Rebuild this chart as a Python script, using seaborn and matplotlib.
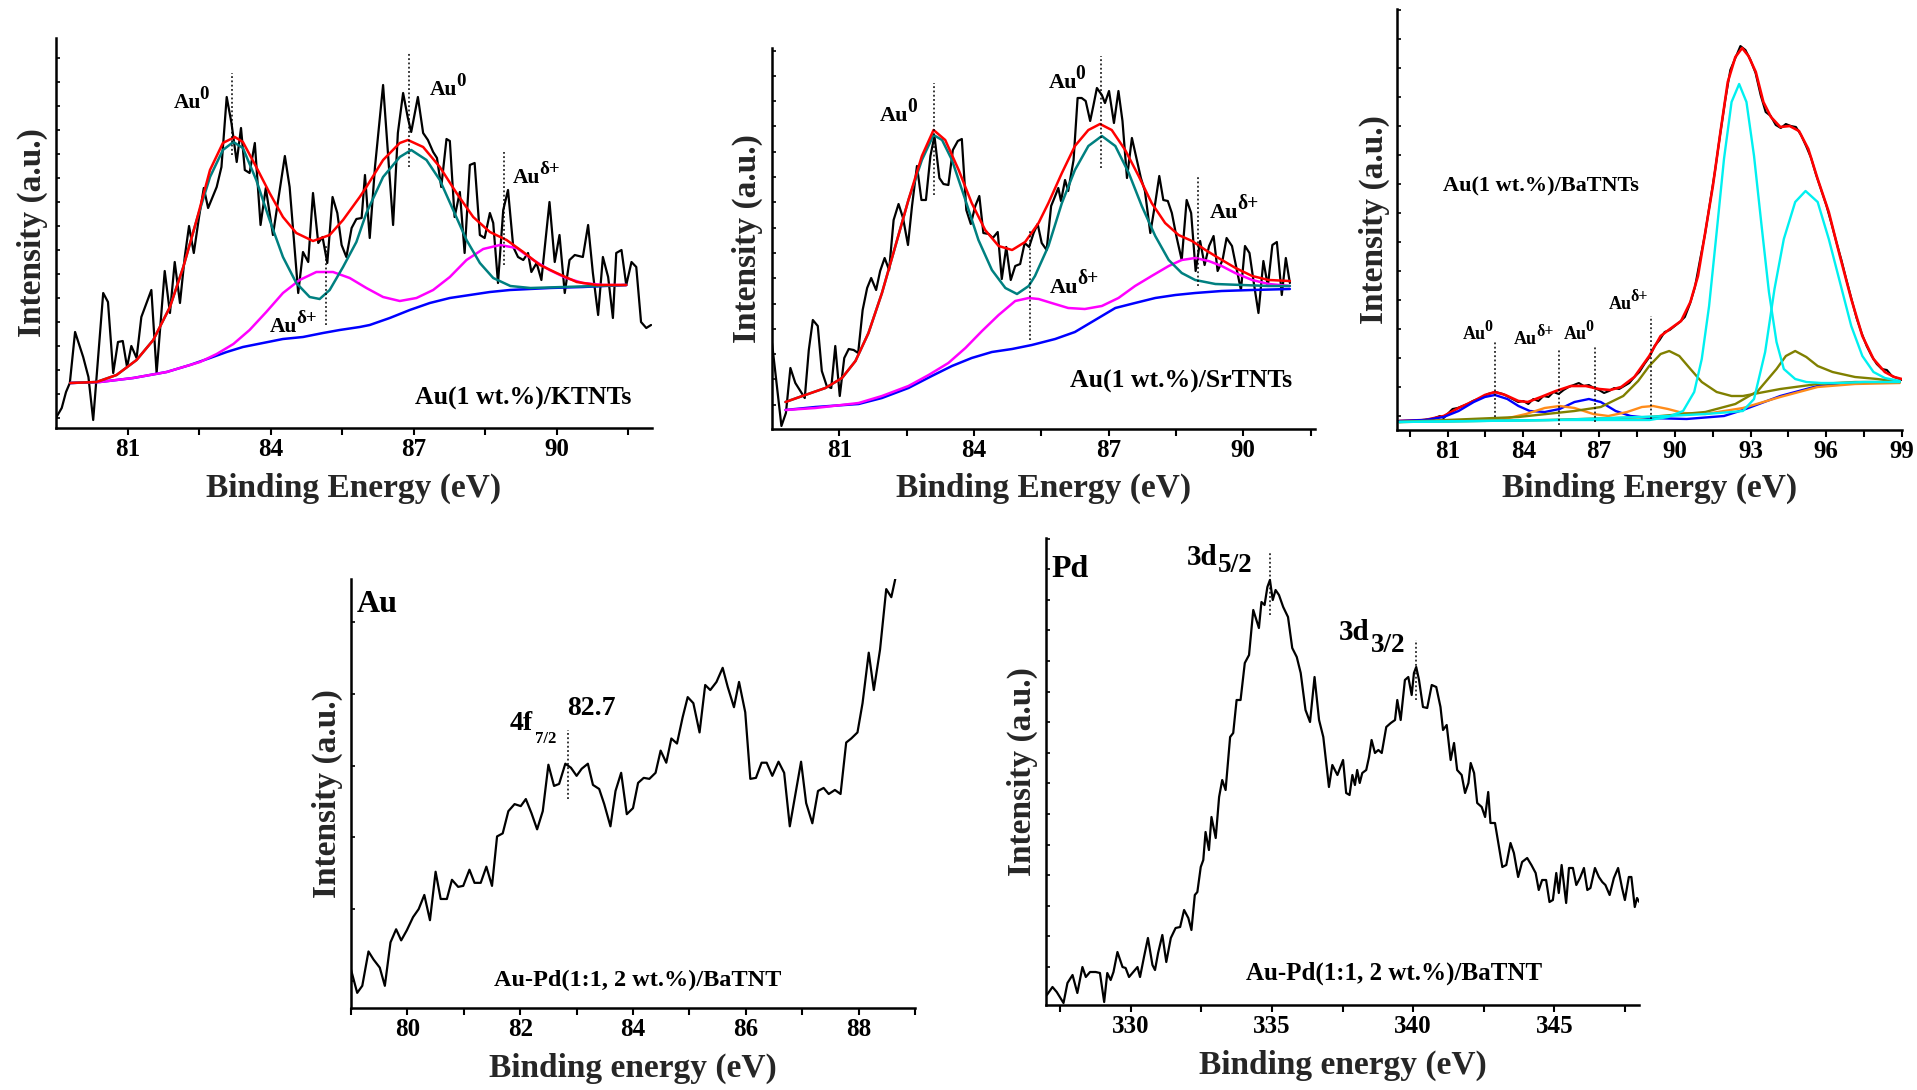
import matplotlib
matplotlib.use("Agg")
import matplotlib.pyplot as plt
import seaborn as sns
import numpy as np

# ---------------- DATA ----------------
# Panel 1: Au(1 wt.%)/KTNTs
p1_x = [79.51,79.62,79.71,79.79,79.90,80.07,80.18,80.28,80.49,80.59,80.70,80.80,80.90,80.99,81.08,81.19,81.29,81.50,81.61,81.78,
        81.89,81.99,82.10,82.20,82.29,82.39,82.50,82.60,82.69,82.87,82.97,83.08,83.18,83.29,83.38,83.46,83.56,83.67,83.79,83.90,
        84.05,84.16,84.30,84.40,84.58,84.68,84.79,84.89,85.00,85.09,85.19,85.30,85.40,85.49,85.59,85.70,85.80,
        85.91,85.98,86.08,86.19,86.36,86.57,86.67,86.78,86.88,86.95,87.09,87.20,87.30,87.41,87.49,87.58,87.69,87.76,87.86,87.97,
        88.07,88.18,88.28,88.39,88.49,88.60,88.67,88.77,88.88,88.98,89.09,89.19,89.30,89.40,89.47,89.58,89.68,89.85,89.96,90.06,
        90.17,90.27,90.38,90.55,90.66,90.76,90.87,90.97,91.08,91.18,91.25,91.36,91.46,91.57,91.67,91.77,91.88,91.98]
p1_y = [11,20,36,45,96,71,51,8,135,126,55,86,87,61,82,70,111,138,55,157,
        115,166,125,171,202,175,211,240,220,241,261,331,305,266,300,258,255,285,203,240,
        193,228,272,241,135,176,166,235,185,191,165,231,215,183,171,200,209,
        210,253,190,261,343,203,295,335,310,296,331,295,288,276,270,241,289,287,211,236,
        175,263,265,193,190,215,205,145,218,238,181,171,168,175,156,165,148,226,166,193,
        135,168,173,171,203,155,113,171,151,110,175,178,143,166,161,106,100,103]
p1_teal_x = [79.80,80.35,80.77,81.19,81.54,81.89,82.17,82.45,82.73,83.00,83.22,83.42,83.70,83.98,84.26,84.54,84.82,85.03,
             85.24,85.52,85.80,86.01,86.36,86.71,86.95,87.27,87.55,87.83,88.11,88.39,88.67,89.03,89.45,90.14,90.84,91.46]
p1_teal_y = [45,46,53,68,88,121,161,208,251,278,286,280,248,208,171,145,131,129,
             138,161,186,215,251,271,278,268,248,218,188,165,150,142,140,141,142,143]
p1_red_x = [79.80,80.35,80.77,81.19,81.54,81.89,82.17,82.45,82.73,83.00,83.25,83.42,83.70,83.98,84.26,84.54,84.89,85.24,
            85.52,85.87,86.01,86.36,86.71,86.88,87.20,87.55,87.90,88.25,88.60,88.95,89.30,89.65,90.00,90.42,90.84,91.46]
p1_red_y = [45,46,53,68,88,121,161,208,258,285,291,286,261,235,211,195,187,193,
            208,231,241,268,285,288,281,261,235,211,196,188,176,163,155,146,143,143]
p1_mag_x = [79.80,80.42,81.12,81.82,82.52,82.87,83.22,83.56,83.91,84.26,84.61,84.96,85.31,85.66,86.01,86.36,86.71,87.06,
            87.41,87.76,88.11,88.46,88.81,89.16,89.51,89.85,90.20,90.55,90.97,91.46]
p1_mag_y = [45,46,50,56,66,74,84,98,116,135,148,156,156,150,140,131,127,130,
            138,151,168,179,183,180,168,158,150,145,143,143]
p1_blue_x = [79.80,80.42,81.12,81.82,82.31,82.73,83.08,83.42,83.84,84.26,84.68,85.10,85.45,85.87,86.08,86.50,86.92,87.34,
             87.76,88.18,88.60,89.02,89.86,90.55,91.46]
p1_blue_y = [45,46,50,56,63,70,76,81,85,89,91,95,98,101,103,110,118,125,130,133,136,138,140,141,143]
p1_dot_x = [83.2, 85.16, 86.9, 88.89]
p1_dot_lo = [273, 103, 261, 163]
p1_dot_hi = [355, 183, 376, 276]

# Panel 2: Au(1 wt.%)/SrTNTs
p2_x = [79.50,79.71,79.81,79.91,80.02,80.23,80.32,80.41,80.52,80.61,80.72,80.82,80.91,81.01,81.11,81.21,81.32,81.42,81.52,81.62,
        81.71,81.82,81.91,82.01,82.11,82.21,82.32,82.42,82.53,82.62,82.73,82.83,82.93,83.03,83.12,83.23,83.32,83.43,83.53,83.64,
        83.73,83.83,83.93,84.03,84.12,84.21,84.33,84.42,84.53,84.62,84.72,84.82,84.92,85.03,85.13,85.23,85.33,85.42,85.51,
        85.62,85.72,85.81,85.88,85.94,86.03,86.10,86.22,86.31,86.40,86.49,86.59,86.66,86.74,86.85,86.92,87.01,87.12,87.22,87.31,
        87.41,87.52,87.63,87.72,87.81,87.93,88.04,88.13,88.22,88.32,88.41,88.51,88.63,88.74,88.84,88.94,89.04,89.14,89.24,89.34,
        89.43,89.54,89.63,89.75,89.84,89.95,90.04,90.14,90.23,90.34,90.45,90.55,90.65,90.75,90.86,90.95,91.04]
p2_y = [86,3,16,61,46,31,79,109,103,58,43,41,83,33,71,80,79,76,119,141,
        151,139,158,171,159,209,225,211,184,223,263,229,229,273,293,251,245,244,279,288,
        290,219,205,223,233,196,195,191,197,150,182,149,163,165,186,182,196,205,186,
        179,223,233,241,228,249,238,269,331,331,328,308,323,341,334,326,338,306,338,308,
        251,291,269,251,238,196,226,253,229,228,216,193,169,229,216,158,188,164,183,193,
        158,169,191,183,163,139,183,176,148,116,168,143,184,187,134,171,146]
p2_teal_x = [79.80,80.24,80.69,81.06,81.36,81.65,81.95,82.25,82.54,82.84,83.10,83.29,83.51,83.81,84.10,84.40,84.70,84.96,
             85.22,85.36,85.66,85.96,86.25,86.55,86.85,87.15,87.45,87.74,88.04,88.34,88.63,88.93,89.38,89.97,90.57,91.04]
p2_teal_y = [27,34,41,51,68,96,136,183,229,269,294,289,269,229,189,159,141,135,
             143,153,183,226,259,283,293,283,256,223,193,169,156,149,145,144,143,143]
p2_red_x = [79.80,80.24,80.69,81.06,81.36,81.65,81.95,82.25,82.54,82.84,83.10,83.36,83.66,83.95,84.25,84.55,84.85,85.14,
            85.44,85.66,85.96,86.25,86.55,86.81,87.07,87.37,87.67,87.96,88.26,88.56,88.86,89.16,89.45,89.83,90.20,90.57,91.04]
p2_red_y = [27,34,41,51,68,96,136,183,229,273,299,289,259,226,199,183,179,187,
            206,226,256,283,299,305,299,279,253,226,206,194,188,179,171,161,153,149,148]
p2_mag_x = [79.80,80.47,81.43,81.95,82.54,82.99,83.43,83.81,84.18,84.55,84.92,85.22,85.44,85.73,86.10,86.47,86.85,87.22,
            87.59,87.96,88.34,88.63,88.93,89.23,89.52,89.82,90.20,90.57,91.04]
p2_mag_y = [19,21,26,33,43,54,66,81,98,114,128,131,130,126,121,120,123,131,
            143,153,163,169,171,168,163,156,149,145,143]
p2_blue_x = [79.80,80.47,81.43,81.95,82.54,83.06,83.51,83.95,84.40,84.85,85.29,85.81,86.25,86.70,87.15,87.59,88.04,88.49,
             88.93,89.52,90.20,91.04]
p2_blue_y = [19,22,25,31,41,53,63,71,77,80,84,90,97,109,121,126,131,134,136,138,139,140]
p2_dot_x = [83.12, 85.24, 86.83, 89.0]
p2_dot_lo = [234, 89, 261, 143]
p2_dot_hi = [346, 199, 373, 253]

# Panel 3: Au(1 wt.%)/BaTNTs
p3_x = [79.1,79.5,80.0,80.4,80.7,80.85,81.0,81.2,81.4,81.6,81.8,82.0,82.3,82.6,82.9,83.2,83.5,83.8,84.0,84.2,
        84.4,84.6,84.8,85.0,85.2,85.4,85.6,85.8,86.0,86.2,86.4,86.6,86.8,87.0,87.2,87.4,87.6,87.8,88.0,88.2,
        88.4,88.6,88.8,89.0,89.2,89.4,89.6,89.8,90.0,90.2,90.4,90.6,90.8,91.0,91.2,91.4,91.6,91.8,92.0,92.2,
        92.4,92.6,92.8,93.0,93.2,93.4,93.6,93.8,94.0,94.2,94.4,94.6,94.8,95.0,95.2,95.4,95.6,95.8,96.0,96.2,
        96.4,96.6,96.8,97.0,97.2,97.4,97.6,97.8,98.0,98.2,98.4,98.6,98.8,99.0]
p3_y = [9,9,10,11,14,12,16,21,22,24,26,29,32,36,38,36,32,28,29,26,
        31,29,34,33,38,36,40,43,45,47,44,45,42,40,37,39,42,41,44,47,
        53,58,66,73,84,90,98,100,104,108,113,126,143,170,196,228,260,296,330,360,
        372,384,380,370,357,335,318,314,305,302,306,304,303,295,284,272,255,240,225,207,
        188,170,150,131,112,97,84,74,66,61,60,54,52,50]
p3_red_x = [79.08,80.11,80.85,81.44,82.04,82.48,82.88,83.29,83.81,84.18,84.70,85.29,85.89,86.48,87.00,87.44,87.88,88.40,
            88.99,89.44,89.81,90.25,90.62,90.92,91.21,91.51,91.81,92.10,92.40,92.67,92.92,93.21,93.51,93.81,94.18,94.55,
            94.92,95.29,95.66,96.10,96.54,96.99,97.43,97.87,98.32,98.69,98.99]
p3_red_y = [9,10,14,22,29,35,38,35,29,28,33,39,44,44,41,40,43,53,
            74,94,101,109,128,154,198,244,298,348,373,382,374,358,328,313,303,304,
            299,281,251,218,174,131,94,71,58,53,51]
p3_cyan1_x = [79.08,85.29,89.00,89.73,90.33,90.77,91.07,91.36,91.66,91.95,92.25,92.55,92.84,93.14,93.44,93.73,94.03,94.32,
              94.77,95.21,95.80,96.50,97.50,98.91]
p3_cyan1_y = [8,10,10,13,19,38,71,124,198,271,328,346,328,274,204,138,88,61,51,48,47,47,48,48]
p3_cyan2_x = [79.08,85.29,89.73,91.21,92.25,92.70,93.14,93.58,93.95,94.32,94.77,95.18,95.66,96.10,96.54,96.99,97.43,97.87,
              98.32,98.91]
p3_cyan2_y = [8,10,14,16,18,19,31,78,141,191,228,239,228,191,148,104,74,58,52,49]
p3_olive1_x = [79.08,83.81,86.03,87.07,87.96,88.55,88.99,89.44,89.78,90.18,90.62,91.07,91.66,92.25,92.70,94.18,95.66,97.14,98.91]
p3_olive1_y = [8,13,19,23,34,49,64,76,79,74,61,48,38,34,34,41,46,48,48]
p3_olive2_x = [79.08,85.00,89.00,91.21,92.40,93.29,94.03,94.40,94.77,95.21,95.66,96.25,97.14,98.02,98.91]
p3_olive2_y = [8,10,13,18,26,39,61,74,79,73,64,58,53,51,48]
p3_blue_x = [79.08,80.11,80.85,81.44,82.04,82.48,82.88,83.37,83.81,84.26,84.85,85.44,86.03,86.60,87.07,87.66,88.25,88.99,
             90.47,91.95,92.70,94.18,95.66,97.14,98.91]
p3_blue_y = [9,10,13,19,28,33,35,31,24,19,18,21,28,31,28,19,14,12,11,14,20,34,44,47,48]
p3_orange_x = [79.08,83.07,84.11,84.85,85.44,86.03,86.77,87.37,88.11,88.70,89.14,89.73,90.33,91.21,92.70,94.18,95.66,97.14,98.91]
p3_orange_y = [8,10,16,22,24,22,16,14,18,23,24,21,17,16,22,33,43,46,47]
p3_dot_x = [82.88, 85.40, 86.83, 89.04]
p3_dot_lo = [13, 5, 8, 11]
p3_dot_hi = [88, 81, 83, 114]

# Panel 4: Au-Pd(1:1, 2 wt.%)/BaTNT, Au 4f
p4_x = [79.00,79.11,79.20,79.31,79.40,79.51,79.60,79.70,79.80,79.89,79.99,80.10,80.20,80.30,80.40,80.50,80.59,80.70,80.79,80.90,
        80.99,81.10,81.19,81.30,81.40,81.50,81.59,81.69,81.79,81.90,82.01,82.10,82.20,82.30,82.40,82.50,82.60,82.69,82.80,82.90,
        83.00,83.09,83.20,83.29,83.40,83.49,83.60,83.69,83.79,83.89,84.00,84.09,84.19,84.29,84.40,84.49,84.59,84.68,84.78,84.88,
        84.97,85.07,85.18,85.28,85.37,85.48,85.59,85.68,85.79,85.88,85.99,86.08,86.18,86.28,86.37,86.47,86.58,86.68,86.78,86.88,
        86.98,87.07,87.18,87.28,87.38,87.47,87.58,87.68,87.78,87.87,87.98,88.07,88.18,88.27,88.38,88.49,88.58,88.65]
p4_y = [38,15,22,56,48,40,22,65,78,67,77,90,98,112,87,135,108,108,127,120,
        121,137,124,124,140,121,170,173,195,202,200,207,193,177,195,241,220,222,242,238,
        230,237,242,221,217,202,180,215,233,192,198,223,228,227,233,255,243,267,262,288,
        308,302,273,320,315,323,337,318,298,323,293,227,228,243,243,230,244,233,180,212,
        244,203,183,215,218,212,216,212,263,267,273,302,352,315,355,415,407,425]
p4_dot_x = [82.84]
p4_dot_lo = [207]
p4_dot_hi = [275]

# Panel 5: Au-Pd(1:1, 2 wt.%)/BaTNT, Pd 3d
p5_x = [327.03,327.23,327.38,327.62,327.76,327.94,328.11,328.29,328.41,328.56,328.76,328.91,329.06,329.17,329.29,329.39,
        329.53,329.71,329.82,329.94,330.09,330.24,330.33,330.47,330.61,330.77,330.86,330.97,331.12,331.26,331.42,331.59,
        331.75,331.89,332.04,332.15,332.27,332.36,332.48,332.57,332.65,332.77,332.86,333.01,333.13,333.24,333.36,333.52,
        333.63,333.75,333.89,334.04,334.19,334.34,334.54,334.63,334.74,334.84,334.93,335.03,335.13,335.25,335.40,335.57,
        335.72,335.88,336.02,336.19,336.35,336.51,336.67,336.82,336.94,337.02,337.14,337.32,
        337.52,337.63,337.75,337.85,337.94,338.02,338.11,338.20,338.34,338.44,338.53,338.65,338.77,338.89,339.05,339.21,
        339.36,339.44,339.56,339.71,339.83,339.95,340.03,340.11,340.21,340.35,340.50,340.66,340.82,340.97,341.06,341.19,
        341.33,341.45,341.56,341.72,341.84,341.96,342.04,342.16,342.27,342.43,342.55,342.66,342.74,342.90,343.04,343.16,
        343.30,343.45,343.57,343.72,343.86,344.04,344.19,344.34,344.45,344.57,344.71,344.83,344.95,345.07,345.16,345.26,
        345.42,345.52,345.66,345.78,345.91,346.05,346.17,346.28,346.44,346.58,346.70,346.81,346.96,347.11,347.26,347.40,
        347.50,347.64,347.73,347.85,347.93,348.01]
p5_y = [10,18,13,2,22,30,12,38,28,33,33,32,3,32,25,33,
        53,38,37,28,33,38,28,48,67,40,35,52,70,43,67,77,
        78,95,87,75,110,113,138,145,173,155,188,167,208,225,215,268,
        272,305,305,342,350,395,377,403,400,418,425,405,415,410,398,388,
        357,348,332,295,283,328,285,268,238,218,240,230,
        245,212,210,230,220,235,222,232,235,248,265,252,255,252,278,282,
        285,305,285,325,328,310,332,338,325,298,297,320,318,298,275,280,
        245,262,235,230,212,222,242,232,202,198,188,213,182,182,158,138,
        140,162,152,128,143,147,140,132,115,125,125,103,105,132,112,140,
        102,137,137,120,127,137,115,117,137,128,123,120,110,127,137,117,
        105,128,128,98,107,103]
p5_dot_x = [334.93, 340.11]
p5_dot_lo = [390, 305]
p5_dot_hi = [452, 365]

# tick labels
p12_major = [81, 84, 87, 90]
p3_major = [81, 84, 87, 90, 93, 96, 99]
p4_major = [80, 82, 84, 86, 88]
p5_major = [330, 335, 340, 345]

# ---------------- STYLE ----------------
sns.set_style("ticks")
plt.rcParams['font.family'] = ['Liberation Serif', 'DejaVu Serif']
plt.rcParams['font.weight'] = 'bold'
plt.rcParams['axes.labelweight'] = 'bold'

W, H = 1917, 1090
fig = plt.figure(figsize=(W / 100, H / 100), dpi=100)
fig.patch.set_facecolor('white')

RED, TEAL, MAG, BLUE = '#ff0000', '#008080', '#ff00ff', '#0000ff'
CYAN, OLIVE, ORANGE = '#00f0f0', '#808000', '#ff8c1a'


def make_ax(left, right, top, bottom):
    return fig.add_axes([left / W, 1 - bottom / H, (right - left) / W, (bottom - top) / H])


def style(ax, xlim, ylim, major, minor, yticks, ylab_x, xlab_px, xlabel):
    ax.set_xlim(*xlim)
    ax.set_ylim(*ylim)
    ax.set_facecolor('white')
    for s in ['top', 'right']:
        ax.spines[s].set_visible(False)
    for s in ['left', 'bottom']:
        ax.spines[s].set_linewidth(1.8)
        ax.spines[s].set_color('black')
    ax.set_xticks(major)
    ax.set_xticklabels([str(v) for v in major])
    ax.set_xticks(minor, minor=True)
    ax.set_yticks(yticks)
    ax.set_yticklabels([])
    ax.tick_params(axis='x', which='both', direction='out', length=5, width=1.5,
                   pad=2, labelsize=18, colors='black')
    ax.tick_params(axis='y', which='major', direction='in', length=3, width=1.2, colors='black')
    ax.set_ylabel('Intensity (a.u.)', fontsize=24, fontweight='bold')
    ax.set_xlabel(xlabel, fontsize=24, fontweight='bold')
    ax.yaxis.set_label_coords(ylab_x, 0.5)
    hpx = ax.get_position().height * H
    ax.xaxis.set_label_coords(0.5, -xlab_px / hpx)


def line(ax, x, y, color, lw):
    sns.lineplot(x=x, y=y, ax=ax, color=color, linewidth=lw, sort=False,
                 estimator=None, errorbar=None, legend=False)


def dots(ax, x, lo, hi):
    ax.vlines(x, lo, hi, colors='black', linestyles=(0, (1.2, 1.6)), linewidth=1.1)


def txt(ax, x, y, s, size, ha='left'):
    ax.text(x, y, s, fontsize=size, ha=ha, va='baseline', fontweight='bold', color='black')


def au_label(ax, x, y, sup, size):
    # "Au" followed by a large raised superscript, as in the original figure
    ax.text(x, y, 'Au', fontsize=size, ha='left', va='baseline', fontweight='bold', color='black')
    ax.annotate(sup, xy=(x, y), xytext=(1.22 * size, 0.42 * size), textcoords='offset points',
                fontsize=0.88 * size, ha='left', va='baseline', fontweight='bold', color='black')


# ---------- Panel 1 ----------
ax1 = make_ax(56, 652, 38, 428)
line(ax1, p1_x, p1_y, 'black', 1.6)
line(ax1, p1_blue_x, p1_blue_y, BLUE, 1.8)
line(ax1, p1_mag_x, p1_mag_y, MAG, 1.8)
line(ax1, p1_teal_x, p1_teal_y, TEAL, 1.8)
line(ax1, p1_red_x, p1_red_y, RED, 1.8)
dots(ax1, p1_dot_x, p1_dot_lo, p1_dot_hi)
au_label(ax1, 81.96, 320, '0', 15.5)
au_label(ax1, 87.34, 333, '0', 15.5)
au_label(ax1, 89.08, 245, 'δ+', 15.5)
au_label(ax1, 83.98, 96, 'δ+', 15.5)
txt(ax1, 91.57, 23, 'Au(1 wt.%)/KTNTs', 18.5, ha='right')
style(ax1, (79.5, 92.0), (0, 390), p12_major, [82.5, 85.5, 88.5, 91.5],
      np.arange(10, 390, 24), -0.013, 45, 'Binding Energy (eV)')

# ---------- Panel 2 ----------
ax2 = make_ax(772, 1315, 48, 429)
line(ax2, p2_x, p2_y, 'black', 1.6)
line(ax2, p2_blue_x, p2_blue_y, BLUE, 1.8)
line(ax2, p2_mag_x, p2_mag_y, MAG, 1.8)
line(ax2, p2_teal_x, p2_teal_y, TEAL, 1.8)
line(ax2, p2_red_x, p2_red_y, RED, 1.8)
dots(ax2, p2_dot_x, p2_dot_lo, p2_dot_hi)
au_label(ax2, 81.91, 308, '0', 16)
au_label(ax2, 85.66, 341, '0', 16)
au_label(ax2, 89.26, 211, 'δ+', 16)
au_label(ax2, 85.70, 136, 'δ+', 16)
txt(ax2, 91.09, 41, 'Au(1 wt.%)/SrTNTs', 18.5, ha='right')
style(ax2, (79.5, 91.6), (0, 381), p12_major, [82.5, 85.5, 88.5, 91.5],
      np.arange(24.3, 381, 25.3), -0.017, 44, 'Binding Energy (eV)')

# ---------- Panel 3 ----------
ax3 = make_ax(1397, 1902, 9, 430)
line(ax3, p3_x, p3_y, 'black', 1.5)
line(ax3, p3_red_x, p3_red_y, RED, 1.9)
line(ax3, p3_blue_x, p3_blue_y, BLUE, 1.7)
line(ax3, p3_orange_x, p3_orange_y, ORANGE, 1.7)
line(ax3, p3_olive1_x, p3_olive1_y, OLIVE, 1.7)
line(ax3, p3_olive2_x, p3_olive2_y, OLIVE, 1.7)
line(ax3, p3_cyan1_x, p3_cyan1_y, CYAN, 1.7)
line(ax3, p3_cyan2_x, p3_cyan2_y, CYAN, 1.7)
dots(ax3, p3_dot_x, p3_dot_lo, p3_dot_hi)
au_label(ax3, 81.59, 91, '0', 13)
au_label(ax3, 83.64, 86, 'δ+', 13)
au_label(ax3, 85.59, 91, '0', 13)
au_label(ax3, 87.37, 121, 'δ+', 13)
txt(ax3, 80.82, 239, 'Au(1 wt.%)/BaTNTs', 16)
style(ax3, (79, 99), (0, 421), p3_major, [79.5, 82.5, 85.5, 88.5, 91.5, 94.5, 97.5],
      np.arange(14.3, 421, 29), -0.014, 43, 'Binding Energy (eV)')

# ---------- Panel 4 ----------
ax4 = make_ax(351, 915, 579, 1008)
line(ax4, p4_x, p4_y, 'black', 1.6)
dots(ax4, p4_dot_x, p4_dot_lo, p4_dot_hi)
txt(ax4, 79.11, 392, 'Au', 23)
txt(ax4, 82.84, 290, '82.7', 20)
txt(ax4, 81.82, 275, '4f', 20)
txt(ax4, 82.26, 263, '7/2', 12)
txt(ax4, 81.54, 22, 'Au-Pd(1:1, 2 wt.%)/BaTNT', 17.5)
style(ax4, (79, 89), (0, 425), p4_major, [79, 81, 83, 85, 87, 89],
      [27, 98, 169, 240, 311, 382], -0.014, 45, 'Binding energy (eV)')

# ---------- Panel 5 ----------
ax5 = make_ax(1046, 1639, 538, 1005)
line(ax5, p5_x, p5_y, 'black', 1.6)
dots(ax5, p5_dot_x, p5_dot_lo, p5_dot_hi)
txt(ax5, 327.2, 428, 'Pd', 23)
txt(ax5, 331.98, 440, '3d', 21)
txt(ax5, 333.07, 433, '5/2', 19.5)
txt(ax5, 337.37, 365, '3d', 21)
txt(ax5, 338.50, 353, '3/2', 19.5)
txt(ax5, 334.07, 25, 'Au-Pd(1:1, 2 wt.%)/BaTNT', 18)
style(ax5, (327, 348), (0, 467), p5_major, [327.5, 332.5, 337.5, 342.5, 347.5],
      np.arange(38, 467, 30.6), -0.013, 45, 'Binding energy (eV)')

fig.savefig('out.png', dpi=100, facecolor='white')
